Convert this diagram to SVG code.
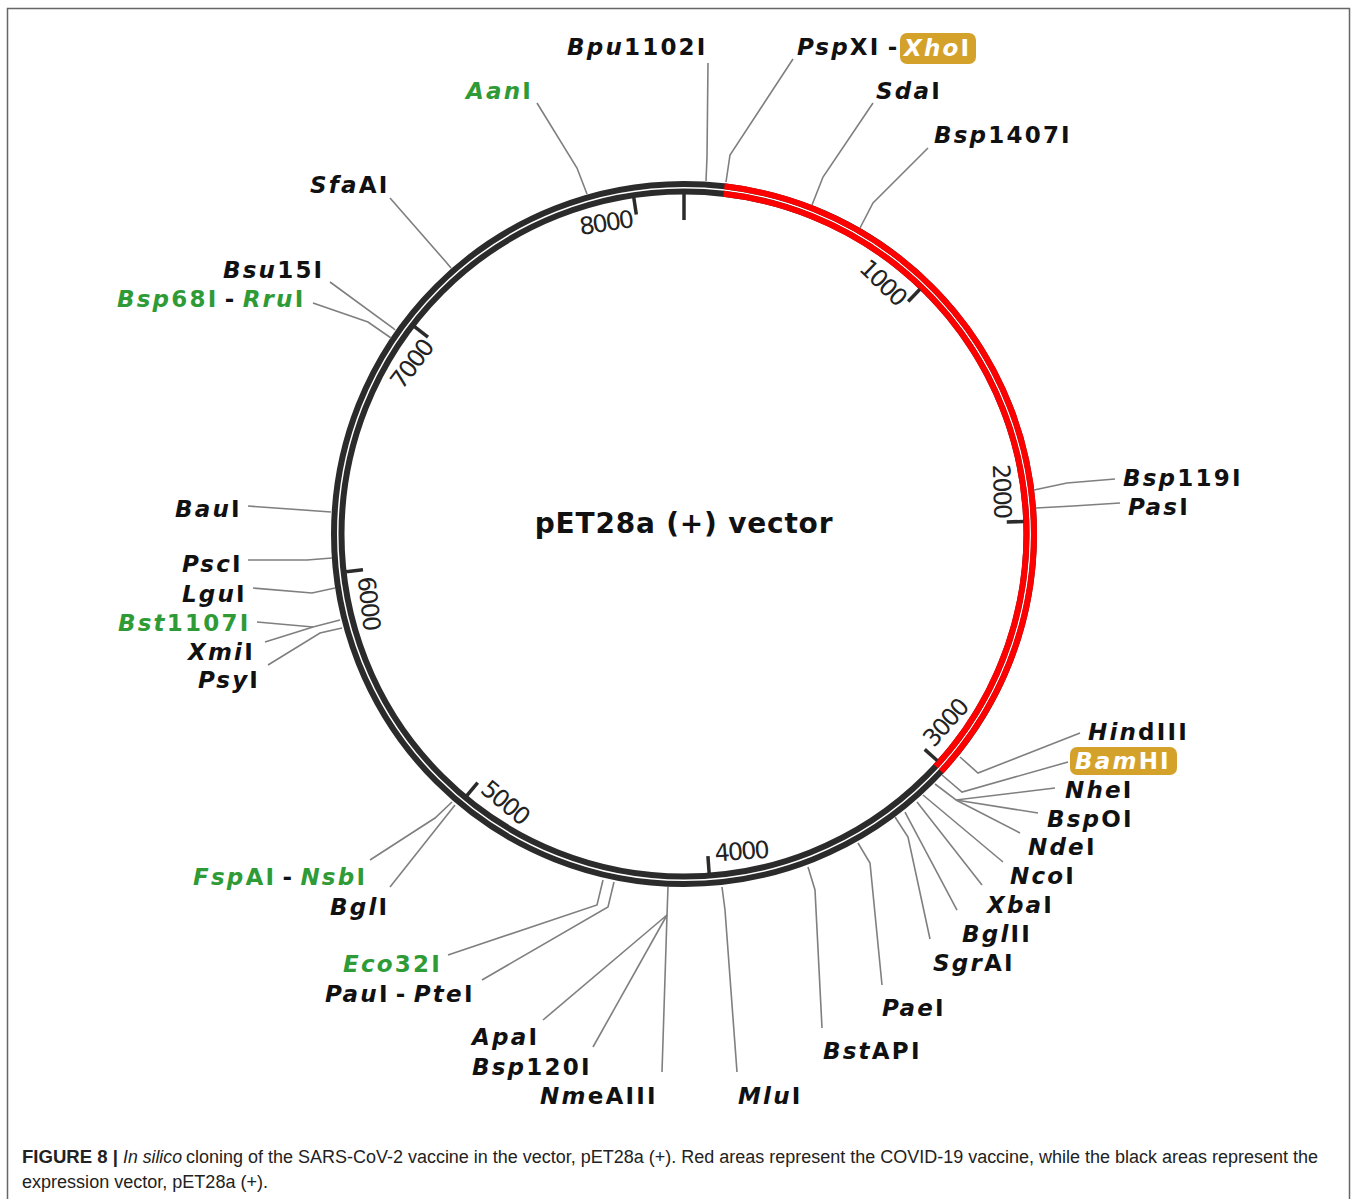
<svg xmlns="http://www.w3.org/2000/svg" width="1358" height="1199" viewBox="0 0 1358 1199">
<style>
.lbl{font-family:"DejaVu Sans",Verdana,sans-serif;font-weight:bold;font-size:23px;letter-spacing:2.2px;fill:#111}
.g{fill:#2f9b37}
.i{font-style:italic}
.w{fill:#fff}
.tk{font-family:"DejaVu Sans",Verdana,sans-serif;font-size:24px;letter-spacing:-2px;fill:#222}
.tick{stroke:#2b2b2b;stroke-width:3.5}
.title{font-family:"DejaVu Sans",Verdana,sans-serif;font-weight:bold;font-size:28px;letter-spacing:0.8px;fill:#111}
.cap{font-family:"Liberation Sans",Arial,sans-serif;font-size:18px;fill:#222}
#connectors polyline{fill:none;stroke:#7f7f7f;stroke-width:1.6}
.box{fill:#d4a22b}
</style>
<rect x="7.5" y="8.5" width="1342" height="1205" fill="#fff" stroke="#666" stroke-width="1.5"/>

<g id="plasmid">
  <circle cx="684" cy="534" r="350" fill="none" stroke="#2b2b2b" stroke-width="6"/>
  <circle cx="684" cy="534" r="342.5" fill="none" stroke="#2b2b2b" stroke-width="6"/>
  <path d="M724.47,186.35 A350,350 0 0 1 941.22,771.35" fill="none" stroke="#ff0000" stroke-width="6"/>
  <path d="M723.60,193.80 A342.5,342.5 0 0 1 935.71,766.27" fill="none" stroke="#ff0000" stroke-width="6"/>
  <line class="tick" x1="684" y1="193" x2="684" y2="220"/>
  <g transform="rotate(43.939 684 534)"><line class="tick" x1="684" y1="194" x2="684" y2="211"/><text class="tk" x="679" y="223" text-anchor="end">1000</text></g>
  <g transform="rotate(87.878 684 534)"><line class="tick" x1="684" y1="194" x2="684" y2="211"/><text class="tk" x="679" y="223" text-anchor="end">2000</text></g>
  <g transform="rotate(-48.183 684 534)"><line class="tick" x1="684" y1="874" x2="684" y2="857"/><text class="tk" x="691" y="863">3000</text></g>
  <g transform="rotate(-4.244 684 534)"><line class="tick" x1="684" y1="874" x2="684" y2="857"/><text class="tk" x="691" y="863">4000</text></g>
  <g transform="rotate(39.695 684 534)"><line class="tick" x1="684" y1="874" x2="684" y2="857"/><text class="tk" x="691" y="863">5000</text></g>
  <g transform="rotate(83.634 684 534)"><line class="tick" x1="684" y1="874" x2="684" y2="857"/><text class="tk" x="691" y="863">6000</text></g>
  <g transform="rotate(307.573 684 534)"><line class="tick" x1="684" y1="194" x2="684" y2="211"/><text class="tk" x="679" y="223" text-anchor="end">7000</text></g>
  <g transform="rotate(351.512 684 534)"><line class="tick" x1="684" y1="194" x2="684" y2="211"/><text class="tk" x="679" y="223" text-anchor="end">8000</text></g>
  <text class="title" x="684" y="533" text-anchor="middle">pET28a (+) vector</text>
</g>

<g id="connectors">
  <polyline points="708,63 707,157 706,181"/>
  <polyline points="793,59 730,155 726,182"/>
  <polyline points="873,103 823,177 812,205"/>
  <polyline points="928,148 873,203 860,228"/>
  <polyline points="537,103 577,168 587,194"/>
  <polyline points="390,198 446,262 451,268"/>
  <polyline points="330,282 393,328 395,330"/>
  <polyline points="313,303 368,322 391,338"/>
  <polyline points="1115,479 1067,483 1034,490"/>
  <polyline points="1120,503 1073,506 1036,508"/>
  <polyline points="248,506 331,512"/>
  <polyline points="248,560 307,560 332,558"/>
  <polyline points="253,588 312,593 335,588"/>
  <polyline points="257,622 313,627 340,620"/>
  <polyline points="265,642 313,627"/>
  <polyline points="268,665 320,633 342,628"/>
  <polyline points="370,860 435,818 452,802"/>
  <polyline points="390,887 455,805"/>
  <polyline points="448,955 597,905 603,880"/>
  <polyline points="482,980 608,907 614,882"/>
  <polyline points="543,1020 667,915"/>
  <polyline points="593,1047 667,915"/>
  <polyline points="662,1072 667,915 668,887"/>
  <polyline points="737,1072 725,910 722,887"/>
  <polyline points="822,1028 815,890 808,867"/>
  <polyline points="882,985 870,863 858,843"/>
  <polyline points="1080,733 978,773 960,757"/>
  <polyline points="1068,762 962,792 942,775"/>
  <polyline points="1055,788 956,800 935,784"/>
  <polyline points="1038,813 956,800"/>
  <polyline points="1020,833 956,800"/>
  <polyline points="1003,862 923,795"/>
  <polyline points="982,885 917,802"/>
  <polyline points="957,910 905,812"/>
  <polyline points="930,939 908,837 895,817"/>
</g>

<g id="Bpu1102I"><text class="lbl" x="567" y="55"><tspan class="i">Bpu</tspan>1102I</text></g>
<g id="PspXI-XhoI"><text class="lbl" x="797" y="55" word-spacing="-3"><tspan class="i">Psp</tspan>XI -</text>
  <rect class="box" x="900" y="33" width="76" height="31" rx="7"/>
  <text class="lbl w" x="904" y="56"><tspan class="i">Xho</tspan>I</text></g>
<g id="SdaI"><text class="lbl" x="876" y="99"><tspan class="i">Sda</tspan>I</text></g>
<g id="Bsp1407I"><text class="lbl" x="934" y="143"><tspan class="i">Bsp</tspan>1407I</text></g>
<g id="AanI"><text class="lbl g" x="466" y="99"><tspan class="i">Aan</tspan>I</text></g>
<g id="SfaAI"><text class="lbl" x="310" y="193"><tspan class="i">Sfa</tspan>AI</text></g>
<g id="Bsu15I"><text class="lbl" x="223" y="278"><tspan class="i">Bsu</tspan>15I</text></g>
<g id="Bsp68I-RruI"><text class="lbl" x="117" y="307" word-spacing="-4"><tspan class="g i">Bsp</tspan><tspan class="g">68I</tspan> - <tspan class="g i">Rru</tspan><tspan class="g">I</tspan></text></g>
<g id="Bsp119I"><text class="lbl" x="1123" y="486"><tspan class="i">Bsp</tspan>119I</text></g>
<g id="PasI"><text class="lbl" x="1128" y="515"><tspan class="i">Pas</tspan>I</text></g>
<g id="BauI"><text class="lbl" x="175" y="517"><tspan class="i">Bau</tspan>I</text></g>
<g id="PscI"><text class="lbl" x="182" y="572"><tspan class="i">Psc</tspan>I</text></g>
<g id="LguI"><text class="lbl" x="182" y="602"><tspan class="i">Lgu</tspan>I</text></g>
<g id="Bst1107I"><text class="lbl g" x="118" y="631"><tspan class="i">Bst</tspan>1107I</text></g>
<g id="XmiI"><text class="lbl" x="188" y="660"><tspan class="i">Xmi</tspan>I</text></g>
<g id="PsyI"><text class="lbl" x="198" y="688"><tspan class="i">Psy</tspan>I</text></g>
<g id="FspAI-NsbI"><text class="lbl" x="193" y="885" word-spacing="-4"><tspan class="g i">Fsp</tspan><tspan class="g">AI</tspan> - <tspan class="g i">Nsb</tspan><tspan class="g">I</tspan></text></g>
<g id="BglI"><text class="lbl" x="330" y="915"><tspan class="i">Bgl</tspan>I</text></g>
<g id="Eco32I"><text class="lbl g" x="343" y="972"><tspan class="i">Eco</tspan>32I</text></g>
<g id="PauI-PteI"><text class="lbl" x="325" y="1002" word-spacing="-4"><tspan class="i">Pau</tspan>I - <tspan class="i">Pte</tspan>I</text></g>
<g id="ApaI"><text class="lbl" x="472" y="1045"><tspan class="i">Apa</tspan>I</text></g>
<g id="Bsp120I"><text class="lbl" x="472" y="1075"><tspan class="i">Bsp</tspan>120I</text></g>
<g id="NmeAIII"><text class="lbl" x="540" y="1104"><tspan class="i">Nm</tspan>eAIII</text></g>
<g id="MluI"><text class="lbl" x="738" y="1104"><tspan class="i">Mlu</tspan>I</text></g>
<g id="BstAPI"><text class="lbl" x="823" y="1059"><tspan class="i">Bst</tspan>API</text></g>
<g id="PaeI"><text class="lbl" x="882" y="1016"><tspan class="i">Pae</tspan>I</text></g>
<g id="HindIII"><text class="lbl" x="1088" y="740"><tspan class="i">Hin</tspan>dIII</text></g>
<g id="BamHI"><rect class="box" x="1070" y="747" width="107" height="28" rx="7"/>
  <text class="lbl w" x="1075" y="769"><tspan class="i">Bam</tspan>HI</text></g>
<g id="NheI"><text class="lbl" x="1065" y="798"><tspan class="i">Nhe</tspan>I</text></g>
<g id="BspOI"><text class="lbl" x="1047" y="827"><tspan class="i">Bsp</tspan>OI</text></g>
<g id="NdeI"><text class="lbl" x="1028" y="855"><tspan class="i">Nde</tspan>I</text></g>
<g id="NcoI"><text class="lbl" x="1010" y="884"><tspan class="i">Nco</tspan>I</text></g>
<g id="XbaI"><text class="lbl" x="987" y="913"><tspan class="i">Xba</tspan>I</text></g>
<g id="BglII"><text class="lbl" x="962" y="942"><tspan class="i">Bgl</tspan>II</text></g>
<g id="SgrAI"><text class="lbl" x="933" y="971"><tspan class="i">Sgr</tspan>AI</text></g>

<g id="caption">
  <text class="cap" x="22" y="1163" font-weight="bold" textLength="96" lengthAdjust="spacingAndGlyphs">FIGURE 8 |</text>
  <text class="cap" x="123" y="1163" font-style="italic" textLength="59" lengthAdjust="spacingAndGlyphs">In silico</text>
  <text class="cap" x="186" y="1163" textLength="1132" lengthAdjust="spacingAndGlyphs">cloning of the SARS-CoV-2 vaccine in the vector, pET28a (+). Red areas represent the COVID-19 vaccine, while the black areas represent the</text>
  <text class="cap" x="22" y="1188" textLength="246" lengthAdjust="spacingAndGlyphs">expression vector, pET28a (+).</text>
</g>
</svg>
